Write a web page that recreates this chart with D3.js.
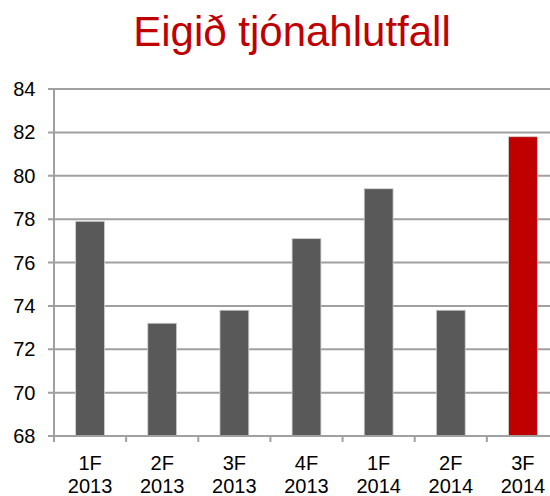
<!DOCTYPE html>
<html>
<head>
<meta charset="utf-8">
<script src="https://cdn.jsdelivr.net/npm/d3@7"></script>
<style>
  body { margin: 0; background: #fff; }
  svg { display: block; font-family: "Liberation Sans", Arial, sans-serif; }
</style>
</head>
<body>
<div id="chart"></div>
<script>
var quarters = ["1F", "2F", "3F", "4F", "1F", "2F", "3F"];
var years = ["2013", "2013", "2013", "2013", "2014", "2014", "2014"];
var values = [77.9, 73.2, 73.8, 77.1, 79.4, 73.8, 81.8];
var yTicks = [68, 70, 72, 74, 76, 78, 80, 82, 84];

(function() {
var width = 550, height = 496;
var plotLeft = 54, plotRight = 559, plotTop = 89, plotBottom = 436;

var svg = d3.select("#chart")
  .append("svg")
  .attr("width", width)
  .attr("height", height);

var idx = d3.range(values.length);

var x = d3.scaleBand()
  .domain(idx)
  .range([plotLeft, plotRight])
  .paddingInner(0.6)
  .paddingOuter(0.3);

var y = d3.scaleLinear()
  .domain([68, 84])
  .range([plotBottom, plotTop]);

// title
svg.append("text")
  .attr("x", 292)
  .attr("y", 46)
  .attr("text-anchor", "middle")
  .attr("fill", "#c00000")
  .style("font-size", "42px")
  .text("Eigið tjónahlutfall");

// gridlines
svg.append("g")
  .selectAll("line")
  .data(yTicks)
  .enter()
  .append("line")
  .attr("x1", plotLeft - 6)
  .attr("x2", plotRight)
  .attr("y1", function(d) { return y(d); })
  .attr("y2", function(d) { return y(d); })
  .attr("stroke", "#a0a0a0")
  .attr("stroke-width", 2);

// y labels
svg.append("g")
  .selectAll("text")
  .data(yTicks)
  .enter()
  .append("text")
  .attr("x", 35.5)
  .attr("y", function(d) { return y(d) + 7; })
  .attr("text-anchor", "end")
  .attr("fill", "#000")
  .style("font-size", "20px")
  .text(function(d) { return d; });

// bars
svg.append("g")
  .selectAll("rect")
  .data(values)
  .enter()
  .append("rect")
  .attr("x", function(d, i) { return x(i); })
  .attr("y", function(d) { return y(d); })
  .attr("width", x.bandwidth())
  .attr("height", function(d) { return y(68) - y(d); })
  .attr("fill", function(d, i) { return i == values.length - 1 ? "#c00000" : "#595959"; })
  .attr("stroke", "#d0d0d0")
  .attr("stroke-width", 0.8);

// y axis line
svg.append("line")
  .attr("x1", plotLeft).attr("x2", plotLeft)
  .attr("y1", plotTop).attr("y2", plotBottom)
  .attr("stroke", "#a0a0a0")
  .attr("stroke-width", 2);

// x axis line + category ticks
svg.append("line")
  .attr("x1", plotLeft).attr("x2", plotRight)
  .attr("y1", plotBottom).attr("y2", plotBottom)
  .attr("stroke", "#a0a0a0")
  .attr("stroke-width", 2);

var step = x.step();
svg.append("g")
  .selectAll("line")
  .data(d3.range(values.length + 1))
  .enter()
  .append("line")
  .attr("x1", function(i) { return plotLeft + i * step; })
  .attr("x2", function(i) { return plotLeft + i * step; })
  .attr("y1", plotBottom)
  .attr("y2", plotBottom + 6)
  .attr("stroke", "#a0a0a0")
  .attr("stroke-width", 2);

// category labels
var lab = svg.append("g")
  .selectAll("text")
  .data(idx)
  .enter()
  .append("text")
  .attr("text-anchor", "middle")
  .attr("fill", "#000")
  .style("font-size", "20px");

lab.append("tspan")
  .attr("x", function(i) { return x(i) + x.bandwidth() / 2; })
  .attr("y", 470)
  .text(function(i) { return quarters[i]; });

lab.append("tspan")
  .attr("x", function(i) { return x(i) + x.bandwidth() / 2; })
  .attr("y", 493)
  .text(function(i) { return years[i]; });
})();
</script>
</body>
</html>
